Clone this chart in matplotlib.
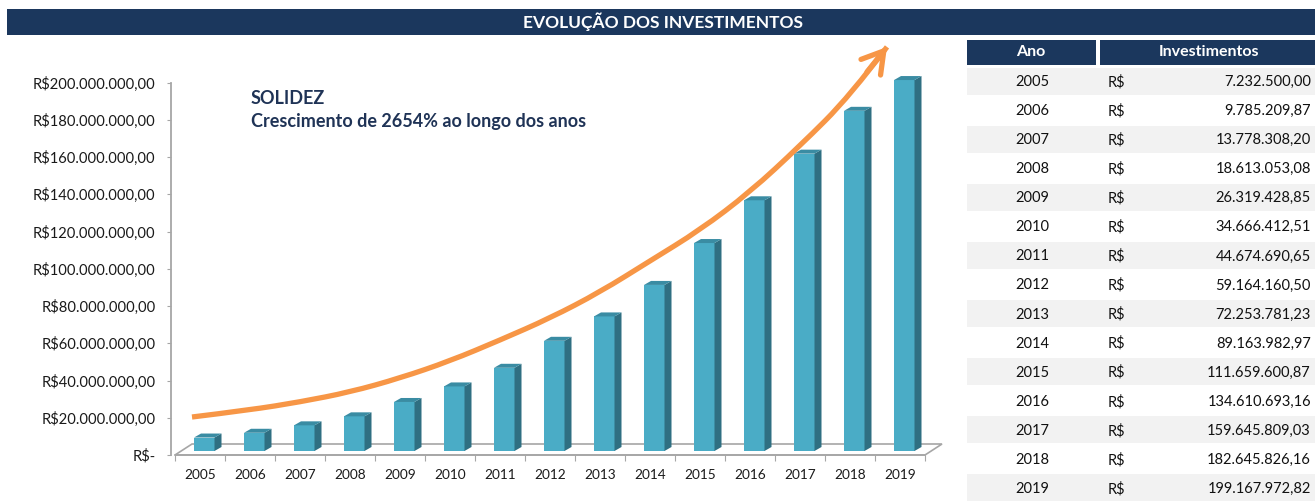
import matplotlib
matplotlib.use("Agg")
import matplotlib.pyplot as plt
from matplotlib.patches import Polygon, Rectangle, PathPatch
from matplotlib.path import Path
from matplotlib.transforms import IdentityTransform

plt.rcParams["font.family"] = ["Lato", "DejaVu Sans"]

years = [2005, 2006, 2007, 2008, 2009, 2010, 2011, 2012, 2013, 2014,
         2015, 2016, 2017, 2018, 2019]
investments = [7232500.00, 9785209.87, 13778308.20, 18613053.08, 26319428.85,
               34666412.51, 44674690.65, 59164160.50, 72253781.23, 89163982.97,
               111659600.87, 134610693.16, 159645809.03, 182645826.16, 199167972.82]
y_ticks = [0, 20e6, 40e6, 60e6, 80e6, 100e6, 120e6, 140e6, 160e6, 180e6, 200e6]

# decorative growth arrow (category index, R$ millions)
arrow_x = [-0.16, 1.0, 2.0, 3.0, 4.0, 5.0, 6.0, 7.0, 8.0, 9.0, 10.0, 11.0, 12.0, 13.0, 13.74]
arrow_y = [20.4, 24.2, 28.5, 33.8, 41.3, 50.5, 61.7, 73.5, 87.5, 104.2, 120.8, 141.2, 166.0, 192.8, 219.1]

NAVY = "#1b375d"
TEXT_NAVY = "#1f3356"
ORANGE = "#f79646"
FRONT = "#4aacc6"
SIDE = "#2f6f82"
TOP = "#3a8ca3"
GREY = "#a6a6a6"

W, H = 1315, 501
fig = plt.figure(figsize=(W / 100, H / 100), dpi=100)


def fx(px):
    return px / W


def fy(py):
    # py measured from the top of the image
    return 1 - py / H


def brl(v):
    s = f"{v:,.2f}"
    return s.replace(",", "X").replace(".", ",").replace("X", ".")


# title bar
fig.patches.append(Rectangle((fx(7), fy(35)), fx(W - 7), 26 / H, transform=fig.transFigure,
                             facecolor=NAVY, edgecolor="none"))
fig.text(fx(663), fy(22), "EVOLUÇÃO DOS INVESTIMENTOS", color="white", fontsize=12.5,
         fontweight="bold", ha="center", va="center")

# chart
ax = fig.add_axes([fx(175), fy(455), fx(750), (455 - 82.5) / H])
ax.set_xlim(-0.5, len(years) - 0.5)
ax.set_ylim(0, 200e6)
for s in ["top", "right"]:
    ax.spines[s].set_visible(False)
ax.spines["left"].set_color(GREY)
ax.spines["left"].set_linewidth(1.3)
ax.spines["left"].set_position(("outward", 3))
ax.spines["bottom"].set_color(GREY)
ax.spines["bottom"].set_linewidth(1.2)

ax.set_yticks(y_ticks)
ax.set_yticklabels(["R$-" if v == 0 else "R$" + brl(v) for v in y_ticks])
ax.tick_params(axis="y", length=3, color=GREY, labelsize=10.6, labelcolor="#1a1a1a", pad=8)

ax.set_xticks([i - 0.5 for i in range(len(years) + 1)])
ax.set_xticklabels([])
ax.set_xticks(range(len(years)), minor=True)
ax.set_xticklabels([str(y) for y in years], minor=True)
ax.tick_params(axis="x", which="major", length=4, color=GREY)
ax.tick_params(axis="x", which="minor", length=0, labelsize=9.8, labelcolor="#1a1a1a", pad=10)

fig.canvas.draw()


def pt(x, y, dx=0.0, dy=0.0):
    X, Y = ax.transData.transform((x, y))
    return (X + dx, Y + dy)


ident = IdentityTransform()

# 3D floor
fl, fr = pt(-0.5, 0), pt(len(years) - 0.5, 0)
floor = [fl, fr, (fr[0] + 17, fr[1] + 11), (fl[0] + 17, fl[1] + 11)]
ax.add_patch(Polygon(floor, closed=True, facecolor="white", edgecolor=GREY, lw=1.2,
                     transform=ident, clip_on=False, zorder=1))

# 3D bars
ddx, ddy = 7, 4
for i, v in enumerate(investments):
    x0, x1 = i - 0.12, i + 0.29
    bl, br = pt(x0, 0, 0, 4), pt(x1, 0, 0, 4)
    tl, tr = pt(x0, v, 0, 4), pt(x1, v, 0, 4)
    ax.add_patch(Polygon([bl, br, tr, tl], facecolor=FRONT, edgecolor="none",
                         transform=ident, clip_on=False, zorder=2))
    ax.add_patch(Polygon([br, (br[0] + ddx, br[1] + ddy), (tr[0] + ddx, tr[1] + ddy), tr],
                         facecolor=SIDE, edgecolor="none", transform=ident, clip_on=False, zorder=2))
    ax.add_patch(Polygon([tl, tr, (tr[0] + ddx, tr[1] + ddy), (tl[0] + ddx, tl[1] + ddy)],
                         facecolor=TOP, edgecolor="none", transform=ident, clip_on=False, zorder=2))

# growth arrow: smooth quadratic path with the read points as control points
P = [pt(x, y * 1e6) for x, y in zip(arrow_x, arrow_y)]
verts = [P[0]]
codes = [Path.MOVETO]
for k in range(1, len(P) - 1):
    nxt = P[k + 1] if k == len(P) - 2 else ((P[k][0] + P[k + 1][0]) / 2, (P[k][1] + P[k + 1][1]) / 2)
    verts += [P[k], nxt]
    codes += [Path.CURVE3, Path.CURVE3]
ax.add_patch(PathPatch(Path(verts, codes), facecolor="none", edgecolor=ORANGE, lw=3.8,
                       capstyle="butt", transform=ident, clip_on=False, zorder=5))
ax.annotate("", xy=P[-1], xytext=(P[-1][0] - 20, P[-1][1] - 25), xycoords=ident, textcoords=ident,
            arrowprops=dict(arrowstyle="->,head_length=0.75,head_width=0.45", color=ORANGE,
                            lw=3.8, shrinkA=0, shrinkB=0, mutation_scale=20),
            annotation_clip=False, zorder=5)

fig.text(fx(251), fy(99), "SOLIDEZ", color=TEXT_NAVY, fontsize=13, fontweight="bold",
         ha="left", va="center")
fig.text(fx(251), fy(122), "Crescimento de 2654% ao longo dos anos", color=TEXT_NAVY,
         fontsize=13, fontweight="bold", ha="left", va="center")

# table
fig.patches.append(Rectangle((fx(967), fy(65)), fx(129), 25 / H, transform=fig.transFigure,
                             facecolor=NAVY, edgecolor="none"))
fig.patches.append(Rectangle((fx(1100), fy(65)), fx(215), 25 / H, transform=fig.transFigure,
                             facecolor=NAVY, edgecolor="none"))
fig.text(fx(1031), fy(52.5), "Ano", color="white", fontsize=11.5, fontweight="bold",
         ha="center", va="center")
fig.text(fx(1209), fy(52.5), "Investimentos", color="white", fontsize=11.5, fontweight="bold",
         ha="center", va="center")

row_h = 29.07
for k, (yr, v) in enumerate(zip(years, investments)):
    cy = 81 + k * row_h
    if k % 2 == 0:
        fig.patches.append(Rectangle((fx(967), fy(cy + 13.5)), fx(348), 27 / H,
                                     transform=fig.transFigure, facecolor="#f2f2f2",
                                     edgecolor="none"))
    fig.text(fx(1032), fy(cy + 1), str(yr), fontsize=10.5, color="#111111", ha="center", va="center")
    fig.text(fx(1108), fy(cy + 1), "R$", fontsize=10.5, color="#111111", ha="left", va="center")
    fig.text(fx(1311), fy(cy + 1), brl(v), fontsize=10.5, color="#111111", ha="right", va="center")

fig.savefig("out.png", dpi=100)
